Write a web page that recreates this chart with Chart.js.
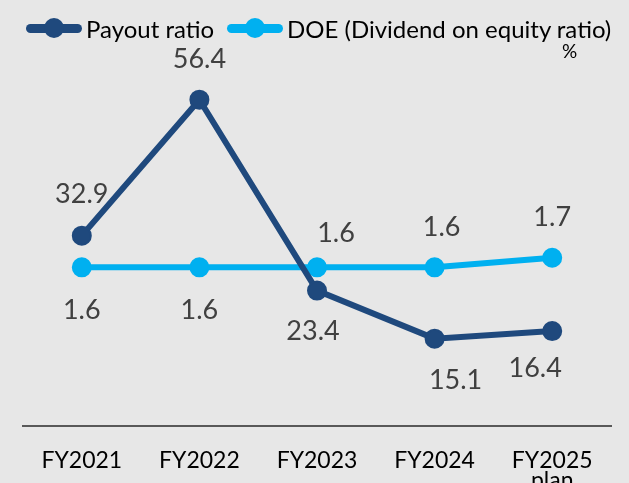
<!DOCTYPE html>
<html>
<head>
<meta charset="utf-8">
<script src="https://cdn.jsdelivr.net/npm/chart.js@4/dist/chart.umd.min.js"></script>
<style>
  body { margin: 0; background: #e7e7e7; font-family: Lato, "Noto Sans", sans-serif; }
  #wrap { position: relative; width: 629px; height: 483px; overflow: hidden; }
  .leg { position: absolute; top: 14px; height: 28px; display: flex; align-items: center; font-size: 24px; color: #000; white-space: nowrap; }
  .mk { position: relative; width: 56px; height: 9px; border-radius: 5px; margin-right: 4px; }
  .mk i { position: absolute; left: 18px; top: -5.5px; width: 20px; height: 20px; border-radius: 50%; background: inherit; }
  #unit { position: absolute; left: 562px; top: 39px; font-size: 19px; color: #000; }
</style>
</head>
<body>
<div id="wrap">
  <canvas id="grafica" width="629" height="483"></canvas>
  <div class="leg" style="left:26px"><span class="mk" style="background:#1f497d"><i></i></span>Payout ratio</div>
  <div class="leg" style="left:227px"><span class="mk" style="background:#00b0f0"><i></i></span>DOE (Dividend on equity ratio)</div>
  <div id="unit">%</div>
</div>
<script>
const years = ["FY2021", "FY2022", "FY2023", "FY2024", ["FY2025", "plan"]];
const payout = [32.9, 56.4, 23.4, 15.1, 16.4];
const doe = [1.6, 1.6, 1.6, 1.6, 1.7];

// label nudges (dx, dy) relative to each point
const payoutLabelPos = [[0, -41], [0, -40], [-4, 41], [21, 42], [-17, 37]];
const doeLabelPos = [[0, 43], [0, 43], [19, -34], [7, -40], [0, -40]];

const etiquetas = {
  id: "etiquetas",
  afterDatasetsDraw(chart) {
    const ctx = chart.ctx;
    const pos = [payoutLabelPos, doeLabelPos];
    ctx.save();
    ctx.font = "27px Lato";
    ctx.fillStyle = "#404040";
    ctx.textAlign = "center";
    ctx.textBaseline = "middle";
    chart.data.datasets.forEach((ds, i) => {
      chart.getDatasetMeta(i).data.forEach((p, j) => {
        const [dx, dy] = pos[i][j];
        ctx.fillText(ds.data[j].toFixed(1), p.x + dx, p.y + dy);
      });
    });
    ctx.restore();
  }
};

new Chart(document.getElementById("grafica"), {
  type: "line",
  data: {
    labels: years,
    datasets: [
      {
        label: "Payout ratio",
        data: payout,
        yAxisID: "y",
        borderColor: "#1f497d",
        backgroundColor: "#1f497d",
        borderWidth: 6,
        pointRadius: 9,
        pointBorderWidth: 2,
        tension: 0
      },
      {
        label: "DOE (Dividend on equity ratio)",
        data: doe,
        yAxisID: "y2",
        borderColor: "#00b0f0",
        backgroundColor: "#00b0f0",
        borderWidth: 6,
        pointRadius: 9,
        pointBorderWidth: 2,
        tension: 0
      }
    ]
  },
  options: {
    responsive: false,
    animation: false,
    layout: { padding: { top: 21, left: 23, right: 18, bottom: 0 } },
    plugins: { legend: { display: false }, tooltip: { enabled: false } },
    scales: {
      x: {
        offset: true,
        grid: { display: false },
        border: { display: true, color: "#595959", width: 2 },
        ticks: { color: "#000", padding: 17, font: { family: "Lato", size: 23, lineHeight: 0.87 } },
        afterFit: s => { s.height = 57; }
      },
      y: { display: false, min: 0, max: 70 },
      y2: { display: false, min: -0.053, max: 4.166 }
    }
  },
  plugins: [etiquetas]
});
</script>
</body>
</html>
